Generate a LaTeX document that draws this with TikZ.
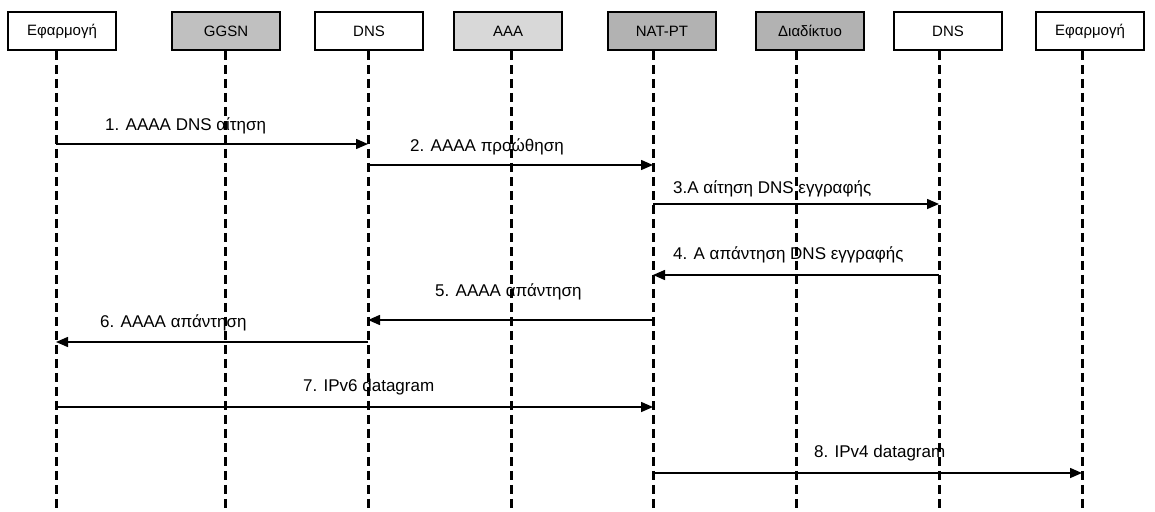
\documentclass[tikz,border=0pt]{standalone}
\usepackage{fontspec}
\setmainfont{Liberation Sans}
\usetikzlibrary{arrows.meta,positioning,calc}
\definecolor{darkfill}{RGB}{178,178,178}
\definecolor{midfill}{RGB}{192,192,192}
\definecolor{lightfill}{RGB}{216,216,216}

\begin{document}
\begin{tikzpicture}[
  x=1pt, y=-1pt,
  entity/.style={
    draw=black,
    line width=1.8pt,
    fill=#1,
    minimum width=108pt,
    minimum height=38pt,
    inner sep=0pt,
    font=\fontsize{15}{18}\selectfont
  },
  entity/.default=white,
  life/.style={line width=3pt, dash pattern=on 9pt off 5pt},
  msg/.style={line width=1.5pt, -{Triangle[length=12pt,width=10pt]}},
  msglabel/.style={anchor=base west, inner sep=0pt, font=\fontsize{17}{20}\selectfont}
]
\useasboundingbox (0,0) rectangle (1155,511);

% Top: entities
\node[entity] (b1) at (62,31) {Εφαρμογή};
\node[entity=midfill] (b2) at (226,31) {GGSN};
\node[entity] (b3) at (369,31) {DNS};
\node[entity=lightfill] (b4) at (508,31) {AAA};
\node[entity=darkfill] (b5) at (662,31) {NAT-PT};
\node[entity=darkfill] (b6) at (810,31) {Διαδίκτυο};
\node[entity] (b7) at (948,31) {DNS};
\node[entity] (b8) at (1090,31) {Εφαρμογή};

% Lifeline ends
\coordinate (L1) at (56,508);
\coordinate (L2) at (225,508);
\coordinate (L3) at (368,508);
\coordinate (L4) at (511,508);
\coordinate (L5) at (653,508);
\coordinate (L6) at (796,508);
\coordinate (L7) at (939,508);
\coordinate (L8) at (1082,508);

% Lifelines
\draw[life] (b1.south -| L1) -- (L1);
\draw[life] (b2.south -| L2) -- (L2);
\draw[life] (b3.south -| L3) -- (L3);
\draw[life] (b4.south -| L4) -- (L4);
\draw[life] (b5.south -| L5) -- (L5);
\draw[life] (b6.south -| L6) -- (L6);
\draw[life] (b7.south -| L7) -- (L7);
\draw[life] (b8.south -| L8) -- (L8);

% Message levels
\coordinate (m1) at (0,144);
\coordinate (m2) at (0,165);
\coordinate (m3) at (0,204);
\coordinate (m4) at (0,275);
\coordinate (m5) at (0,320);
\coordinate (m6) at (0,342);
\coordinate (m7) at (0,407);
\coordinate (m8) at (0,473);

% Messages
\draw[msg] (L1 |- m1) -- (L3 |- m1);
\draw[msg] (L3 |- m2) -- (L5 |- m2);
\draw[msg] (L5 |- m3) -- (L7 |- m3);
\draw[msg] (L7 |- m4) -- (L5 |- m4);
\draw[msg] (L5 |- m5) -- (L3 |- m5);
\draw[msg] (L3 |- m6) -- (L1 |- m6);
\draw[msg] (L1 |- m7) -- (L5 |- m7);
\draw[msg] (L5 |- m8) -- (L8 |- m8);

% Labels
\node[msglabel] (t1) at (105,130) {1. AAAA DNS αίτηση};
\node[msglabel] (t2) at (410,151) {2. AAAA προώθηση};
\node[msglabel] (t3) at (673,193) {3.A αίτηση DNS εγγραφής};
\node[msglabel] (t4) at (673,259) {4. Α απάντηση DNS εγγραφής};
\node[msglabel] (t5) at (435,296) {5. AAAA απάντηση};
\node[msglabel] (t6) at (100,327) {6. AAAA απάντηση};
\node[msglabel] (t7) at (303,391) {7. IPv6 datagram};
\node[msglabel] (t8) at (814,457) {8. IPv4 datagram};

\end{tikzpicture}
\end{document}
